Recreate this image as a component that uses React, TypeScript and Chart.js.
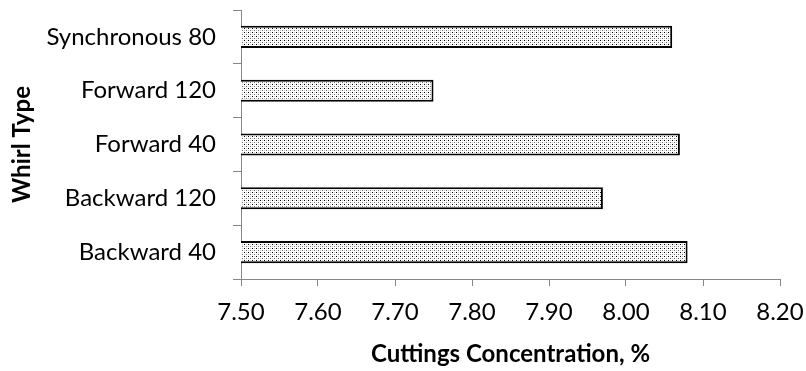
import React, { useEffect, useRef } from 'react';
import { Chart, registerables } from 'chart.js';
Chart.register(...registerables);

const categories = ['Synchronous 80', 'Forward 120', 'Forward 40', 'Backward 120', 'Backward 40'];
const values = [8.06, 7.75, 8.07, 7.97, 8.08];
const xMin = 7.5;
const xMax = 8.2;
const xStep = 0.1;
const xTitle = 'Cuttings Concentration, %';
const yTitle = 'Whirl Type';

function makePattern(): CanvasPattern | string {
  const pc = document.createElement('canvas');
  pc.width = 4;
  pc.height = 4;
  const c = pc.getContext('2d');
  if (!c) return '#eee';
  c.fillStyle = '#ffffff';
  c.fillRect(0, 0, 4, 4);
  c.fillStyle = '#000000';
  c.fillRect(0, 0, 1, 1);
  c.fillStyle = '#707070';
  c.fillRect(2, 2, 1, 1);
  c.fillStyle = '#cccccc';
  c.fillRect(2, 0, 1, 1);
  c.fillRect(0, 2, 1, 1);
  const p = c.createPattern(pc, 'repeat');
  return p || '#eee';
}

export default function App() {
  const ref = useRef<HTMLCanvasElement>(null);
  useEffect(() => {
    document.body.style.margin = '0';
    let chart: Chart | null = null;
    let cancelled = false;
    const fam = 'Lato';
    Promise.all([
      document.fonts.load(`24px ${fam}`),
      document.fonts.load(`bold 24px ${fam}`),
    ]).catch(() => null).then(() => {
      if (cancelled || !ref.current) return;
      const tickFont = { family: fam, size: 24 };
      const titleFont = { family: fam, size: 24, weight: 'bold' as const };
      chart = new Chart(ref.current, {
        type: 'bar',
        data: {
          labels: categories,
          datasets: [
            {
              data: values,
              backgroundColor: makePattern() as any,
              borderColor: '#000000',
              borderWidth: 2,
              borderSkipped: false,
              barPercentage: 0.41,
              categoryPercentage: 1,
            },
          ],
        },
        options: {
          indexAxis: 'y',
          animation: false,
          responsive: false,
          maintainAspectRatio: false,
          layout: { padding: { top: 10, right: 26, left: 0, bottom: 0 } },
          plugins: { legend: { display: false }, tooltip: { enabled: false } },
          scales: {
            x: {
              type: 'linear',
              min: xMin,
              max: xMax,
              afterFit: (s: any) => {
                s.height = 92;
                s.paddingLeft = 0;
                s.paddingRight = 0;
              },
              ticks: {
                stepSize: xStep,
                color: '#000',
                font: tickFont,
                padding: 12,
                maxRotation: 0,
                callback: (v: any) => Number(v).toFixed(2),
              },
              grid: { drawOnChartArea: false, drawTicks: true, tickLength: 7, color: '#868686' },
              border: { display: true, color: '#868686', width: 1 },
              title: { display: true, text: xTitle, color: '#000', font: titleFont, padding: { top: 0, bottom: 2 } },
            },
            y: {
              type: 'category',
              afterFit: (s: any) => {
                s.width = 241;
                s.paddingTop = 0;
                s.paddingBottom = 0;
              },
              ticks: { color: '#000', font: tickFont, padding: 17 },
              grid: { offset: true, drawOnChartArea: false, drawTicks: true, tickLength: 8, color: '#868686' },
              border: { display: true, color: '#868686', width: 1 },
              title: { display: true, text: yTitle, color: '#000', font: titleFont, padding: 8 },
            },
          },
        },
      });
    });
    return () => {
      cancelled = true;
      if (chart) chart.destroy();
    };
  }, []);
  return <canvas ref={ref} width={806} height={371} style={{ display: 'block' }} />;
}
